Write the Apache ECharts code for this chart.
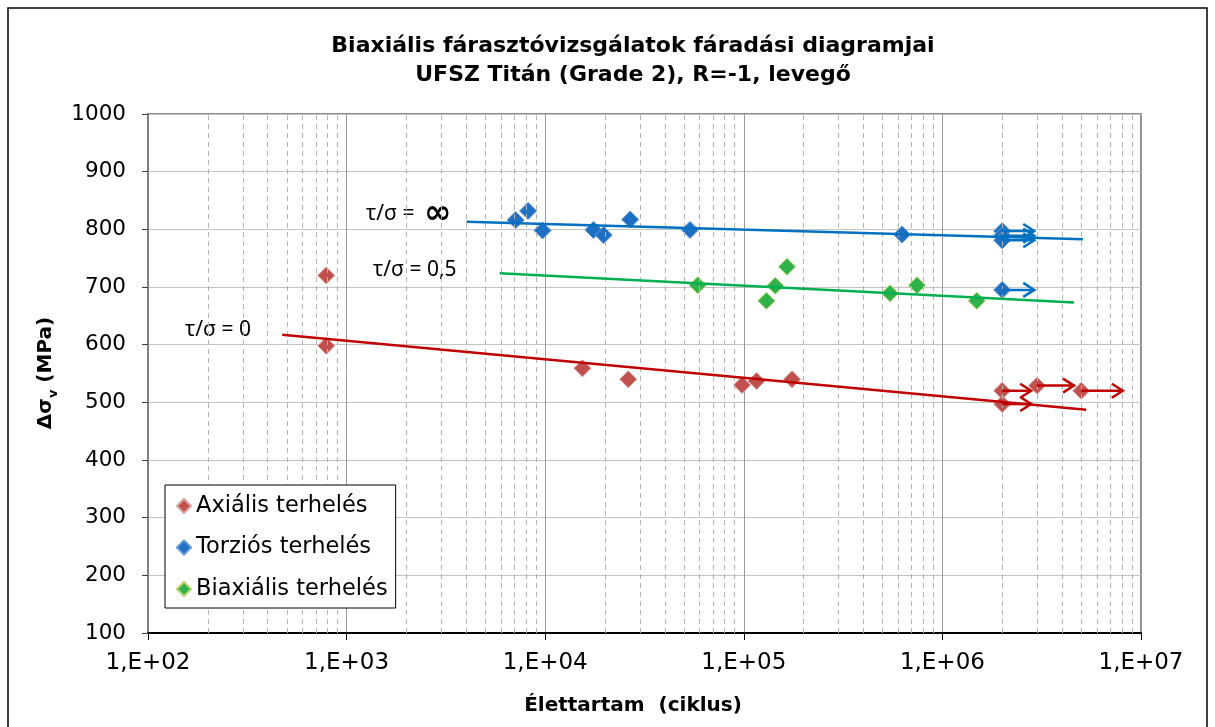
<!DOCTYPE html>
<html>
<head>
<meta charset="utf-8">
<title>Biaxiális fárasztóvizsgálatok</title>
<script src="https://cdn.jsdelivr.net/npm/echarts@6/dist/echarts.min.js"></script>
<style>
  html, body { margin: 0; padding: 0; background: #fff; }
  #chart { width: 1215px; height: 727px; }
</style>
</head>
<body>
<div id="chart"></div>
<script>
// Fatigue test results: [cycles, Δσv (MPa)]
const axialPoints = [
  [790, 720], [790, 598], [15400, 559], [26200, 540], [98000, 530],
  [116000, 537], [175000, 540], [2.0e6, 520], [2.0e6, 497], [3.0e6, 529], [5.0e6, 520]
];
const torsionPoints = [
  [7100, 816], [8200, 832], [9700, 798], [17500, 799], [19700, 790], [26800, 817],
  [53600, 799], [627000, 791], [2.0e6, 797], [2.0e6, 789], [2.0e6, 781], [2.0e6, 695]
];
const biaxialPoints = [
  [58600, 703], [130000, 676], [144000, 702], [165000, 735],
  [545000, 689], [745000, 703], [1.49e6, 676]
];

// Fitted S-N trend lines (end points)
const axialTrend = [[474, 617], [5.3e6, 487]];
const torsionTrend = [[4020, 813], [5.1e6, 783]];
const biaxialTrend = [[5900, 724], [4.6e6, 673]];

// Run-outs: [start cycles, end of arrow, Δσv]
const axialRunouts = [[2.0e6, 2.8e6, 520], [2.0e6, 2.8e6, 497], [3.0e6, 4.6e6, 529], [5.0e6, 8.1e6, 520]];
const torsionRunouts = [[2.0e6, 2.9e6, 797], [2.0e6, 2.9e6, 789], [2.0e6, 2.9e6, 781], [2.0e6, 2.9e6, 695]];

const seriesNames = ['Axiális terhelés', 'Torziós terhelés', 'Biaxiális terhelés'];
const xDecades = [1e2, 1e3, 1e4, 1e5, 1e6, 1e7];
const yTicks = [100, 200, 300, 400, 500, 600, 700, 800, 900, 1000];

// 2..9 × 10^n minor grid positions
const minorX = [];
for (let i = 0; i < xDecades.length - 1; i++) {
  for (let m = 2; m <= 9; m++) minorX.push(m * xDecades[i]);
}

const RED = '#C0504D', RED_LINE = '#C00000';
const BLUE = '#1F6FC2', BLUE_LINE = '#0070C0';
const GREEN = '#2FB24A', GREEN_LINE = '#00B050';

function arrowSeries(data, color) {
  return {
    type: 'custom',
    data: data,
    encode: { x: [0, 1], y: 2 },
    z: 6,
    silent: true,
    renderItem: function (params, api) {
      const p0 = api.coord([api.value(0), api.value(2)]);
      const p1 = api.coord([api.value(1), api.value(2)]);
      const style = { stroke: color, lineWidth: 2.5, fill: 'none' };
      return {
        type: 'group',
        children: [
          { type: 'line', shape: { x1: p0[0], y1: p0[1], x2: p1[0], y2: p1[1] }, style: style },
          { type: 'polyline', shape: { points: [[p1[0] - 11, p1[1] - 7], [p1[0], p1[1]], [p1[0] - 11, p1[1] + 7]] }, style: style }
        ]
      };
    }
  };
}

function trendSeries(data, color) {
  return {
    type: 'line', data: data, showSymbol: false, symbol: 'none', silent: true, z: 5,
    lineStyle: { color: color, width: 2.5 }
  };
}

function scatterSeries(name, data, color, border) {
  return {
    name: name, type: 'scatter', data: data, symbol: 'diamond', symbolSize: 17, z: 4,
    itemStyle: { color: color, borderColor: border, borderWidth: 1, opacity: 1 }
  };
}

const chart = echarts.init(document.getElementById('chart'), null, { renderer: 'canvas' });

const option = {
  backgroundColor: '#fff',
  animation: false,
  grid: {
    left: 148, right: 74, top: 114, bottom: 94,
    show: true, borderColor: '#8c8c8c', borderWidth: 2
  },
  xAxis: {
    type: 'log', logBase: 10, min: xDecades[0], max: xDecades[xDecades.length - 1],
    splitNumber: 5,
    axisLine: { show: true, onZero: false, lineStyle: { color: '#000', width: 2 } },
    axisTick: { show: true, inside: false, length: 7, lineStyle: { color: '#000', width: 1 } },
    axisLabel: {
      margin: 19, color: '#000', fontFamily: 'DejaVu Sans', fontSize: 23,
      formatter: function (v) {
        const e = Math.round(Math.log10(v));
        return '1,E+' + String(e).padStart(2, '0');
      }
    },
    splitLine: { show: true, lineStyle: { color: '#9a9a9a', width: 1 } },
    minorTick: { show: false }, minorSplitLine: { show: false }
  },
  yAxis: {
    type: 'value', min: yTicks[0], max: yTicks[yTicks.length - 1], interval: 100,
    axisLine: { show: true, lineStyle: { color: '#808080', width: 2 } },
    axisTick: { show: true, inside: false, length: 6, lineStyle: { color: '#404040', width: 1 } },
    axisLabel: {
      margin: 22, color: '#000', fontFamily: 'DejaVu Sans', fontSize: 21.5,
      formatter: function (v) { return String(v); }
    },
    splitLine: { show: true, lineStyle: { color: '#c4c4c4', width: 1 } }
  },
  legend: {
    orient: 'vertical', left: 165, top: 485, z: 10,
    data: seriesNames.map(n => ({ name: n, icon: 'diamond' })),
    itemWidth: 14, itemHeight: 14, itemGap: 17.5,
    padding: [9, 8, 7, 11],
    backgroundColor: '#fff', borderColor: '#000', borderWidth: 1,
    textStyle: { color: '#000', fontFamily: 'DejaVu Sans', fontSize: 22.5, lineHeight: 24 },
    selectedMode: false
  },
  graphic: [
    { type: 'rect', shape: { x: 8, y: 8, width: 1199, height: 740 }, style: { fill: 'none', stroke: '#000', lineWidth: 1.5 }, silent: true, z: -10 },
    { type: 'text', x: 633, y: 46, style: { text: 'Biaxiális fárasztóvizsgálatok fáradási diagramjai', font: 'bold 22px "DejaVu Sans"', fill: '#000', textAlign: 'center', textVerticalAlign: 'middle' } },
    { type: 'text', x: 633, y: 75, style: { text: 'UFSZ Titán (Grade 2), R=-1, levegő', font: 'bold 22px "DejaVu Sans"', fill: '#000', textAlign: 'center', textVerticalAlign: 'middle' } },
    { type: 'text', x: 633, y: 706, style: { text: 'Élettartam  (ciklus)', font: 'bold 20px "DejaVu Sans"', fill: '#000', textAlign: 'center', textVerticalAlign: 'middle' } },
    {
      type: 'text', x: 46, y: 373, rotation: Math.PI / 2,
      style: {
        text: '{a|Δσ}{s|v}{a| (MPa)}', fill: '#000', textAlign: 'center', textVerticalAlign: 'middle',
        rich: {
          a: { font: 'bold 20px "DejaVu Sans"', fill: '#000', verticalAlign: 'bottom' },
          s: { font: 'bold 13px "DejaVu Sans"', fill: '#000', verticalAlign: 'bottom', padding: [0, 0, -4, 0] }
        }
      }
    },
    { type: 'text', x: 366, y: 214, style: { text: 'τ/σ = ', font: '21px "Noto Sans"', fill: '#000', textAlign: 'left', textVerticalAlign: 'middle' } },
    { type: 'text', x: 424, y: 214, style: { text: '∞', font: 'bold 33px "DejaVu Sans"', fill: '#000', textAlign: 'left', textVerticalAlign: 'middle' } },
    { type: 'text', x: 373, y: 270, style: { text: 'τ/σ = 0,5', font: '21px "Noto Sans"', fill: '#000', textAlign: 'left', textVerticalAlign: 'middle' } },
    { type: 'text', x: 185, y: 330, style: { text: 'τ/σ = 0', font: '21px "Noto Sans"', fill: '#000', textAlign: 'left', textVerticalAlign: 'middle' } }
  ],
  series: [
    {
      type: 'line', data: [], silent: true, z: 1,
      markLine: {
        silent: true, symbol: 'none', label: { show: false },
        lineStyle: { color: '#b4b4b4', width: 1, type: [5, 4] },
        data: minorX.map(v => ({ xAxis: v }))
      }
    },
    scatterSeries(seriesNames[0], axialPoints, RED, '#d9a09e'),
    scatterSeries(seriesNames[1], torsionPoints, BLUE, '#5d97d6'),
    scatterSeries(seriesNames[2], biaxialPoints, GREEN, '#b7d36a'),
    trendSeries(axialTrend, RED_LINE),
    trendSeries(torsionTrend, BLUE_LINE),
    trendSeries(biaxialTrend, GREEN_LINE),
    arrowSeries(axialRunouts, RED_LINE),
    arrowSeries(torsionRunouts, BLUE_LINE)
  ]
};

chart.setOption(option);
</script>
</body>
</html>
